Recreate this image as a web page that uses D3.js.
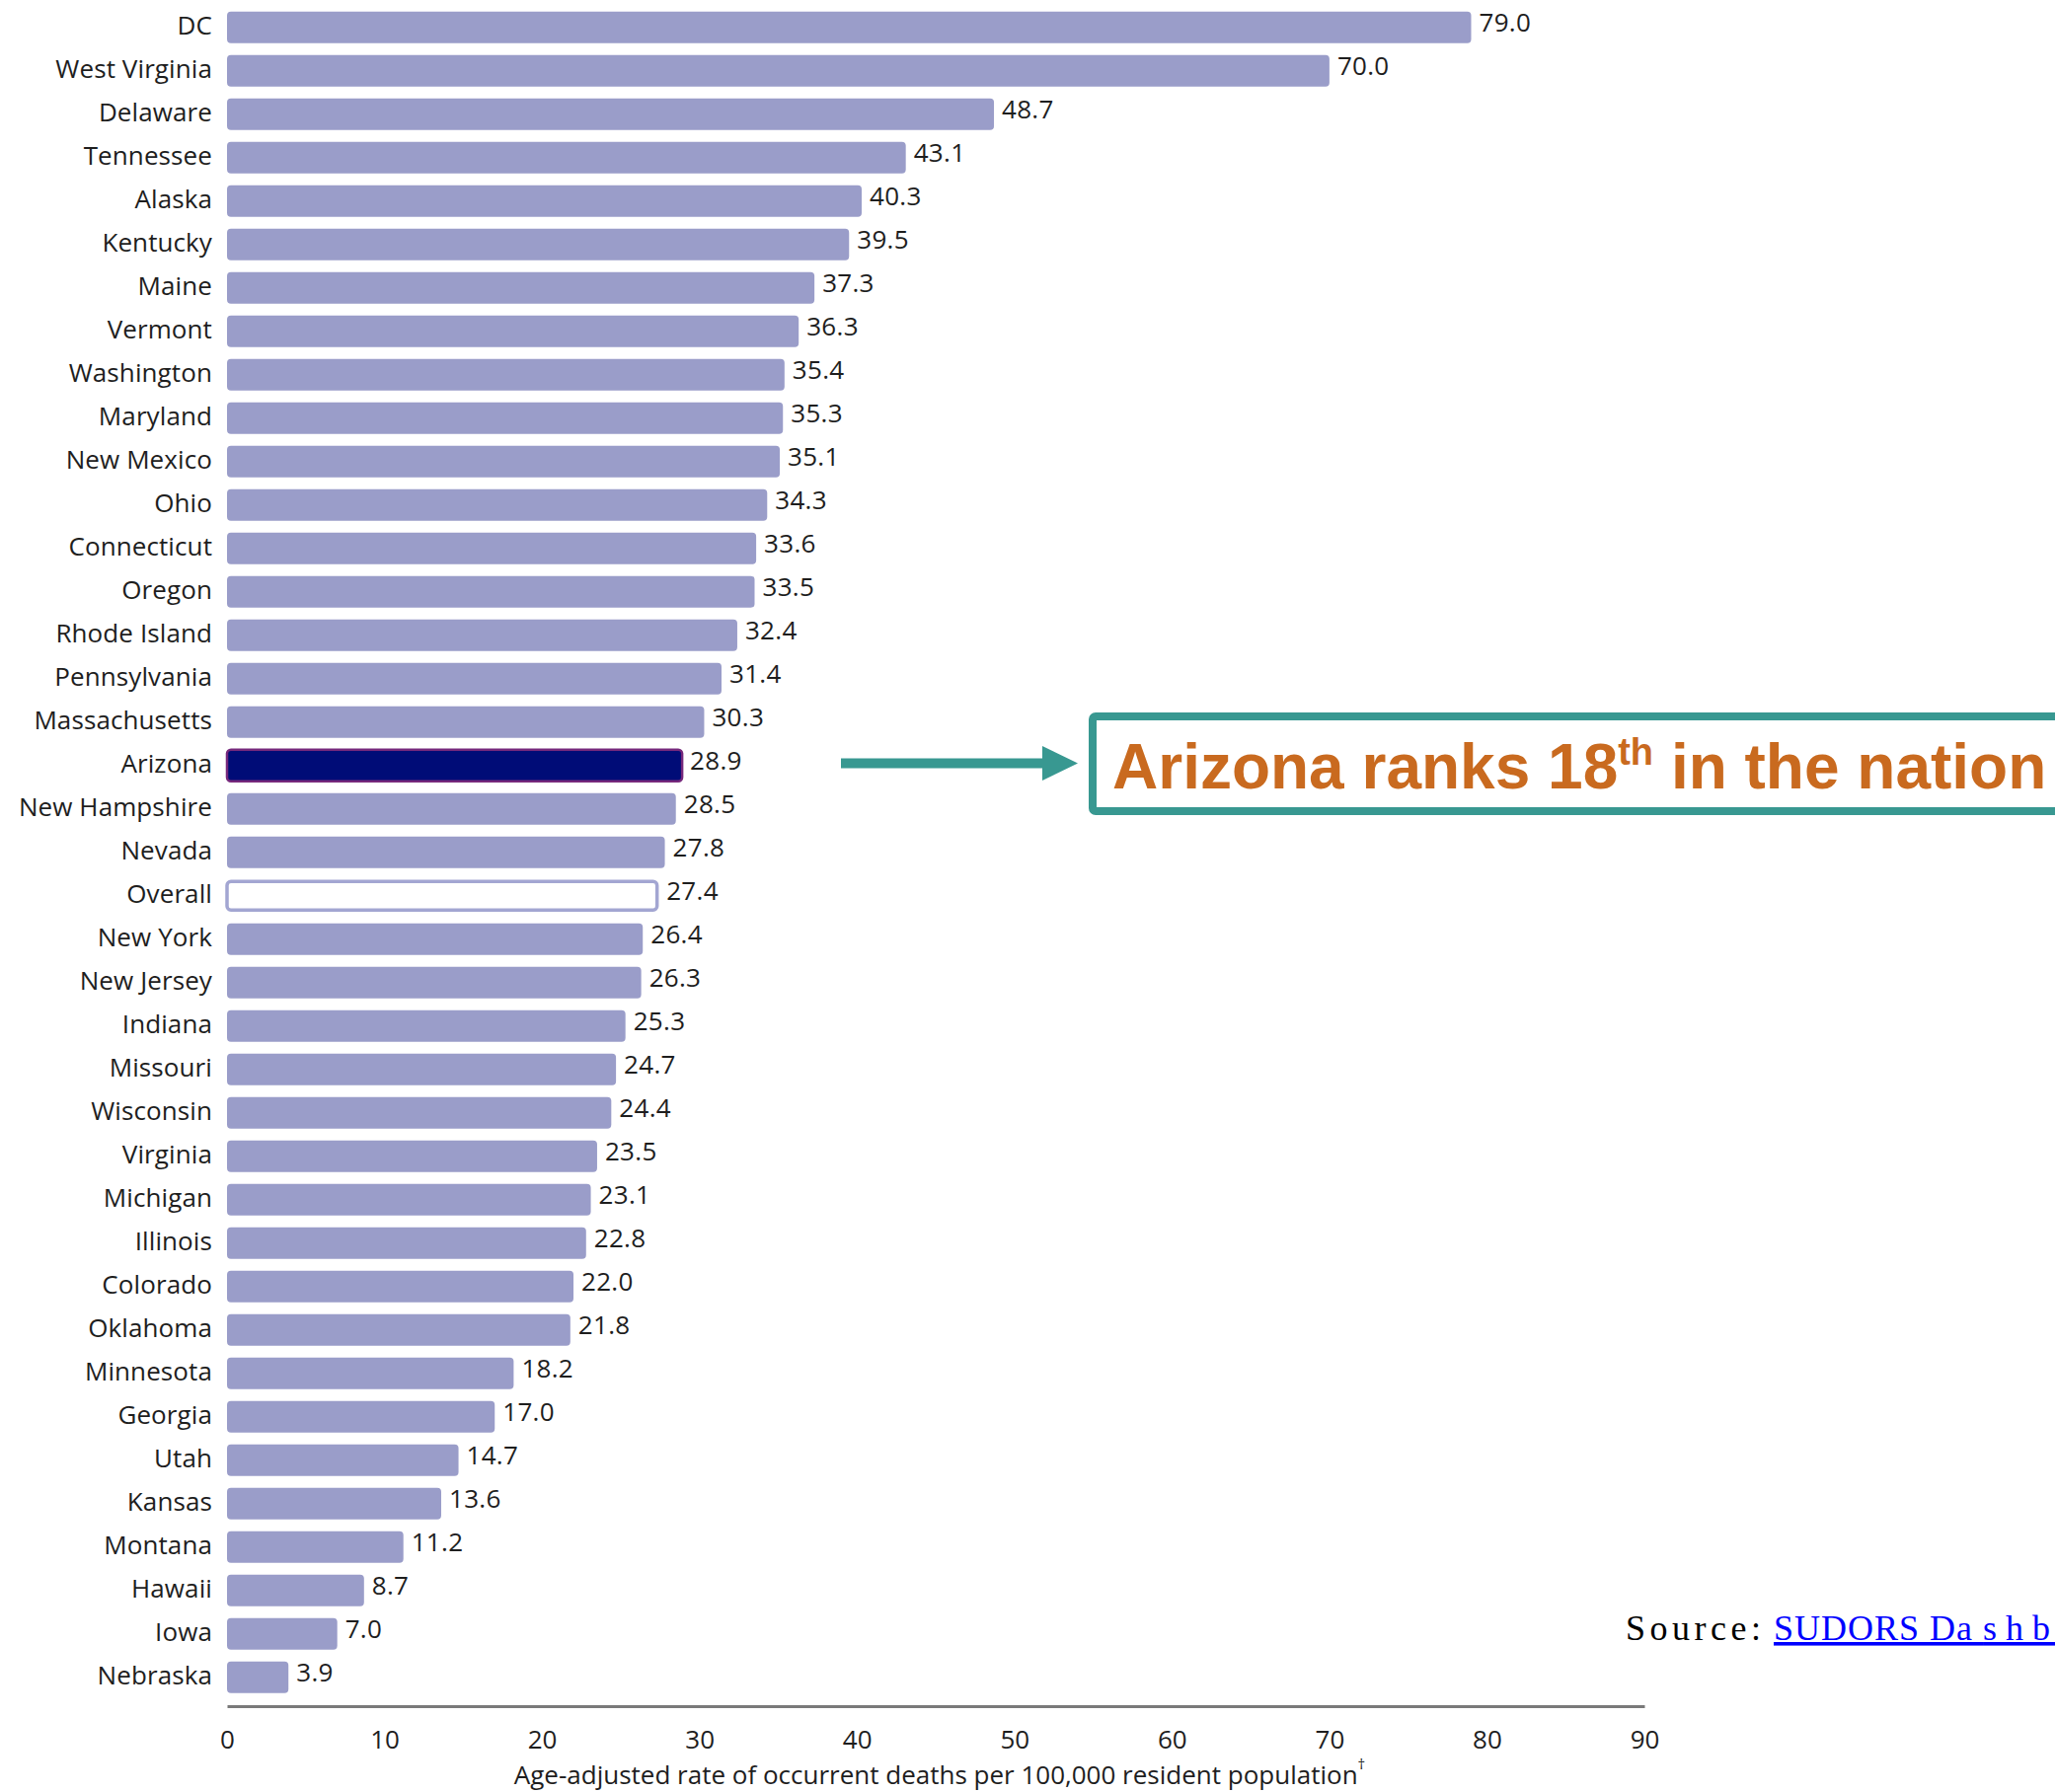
<!DOCTYPE html>
<html>
<head>
<meta charset="utf-8">
<script src="https://cdn.jsdelivr.net/npm/d3@7"></script>
<style>
  html, body { margin: 0; padding: 0; background: #fff; }
  svg { display: block; }
</style>
</head>
<body>
<svg id="chart" width="2082" height="1816"></svg>
<script>
const states = ["DC","West Virginia","Delaware","Tennessee","Alaska","Kentucky","Maine","Vermont","Washington","Maryland","New Mexico","Ohio","Connecticut","Oregon","Rhode Island","Pennsylvania","Massachusetts","Arizona","New Hampshire","Nevada","Overall","New York","New Jersey","Indiana","Missouri","Wisconsin","Virginia","Michigan","Illinois","Colorado","Oklahoma","Minnesota","Georgia","Utah","Kansas","Montana","Hawaii","Iowa","Nebraska"];
const rates = [79.0,70.0,48.7,43.1,40.3,39.5,37.3,36.3,35.4,35.3,35.1,34.3,33.6,33.5,32.4,31.4,30.3,28.9,28.5,27.8,27.4,26.4,26.3,25.3,24.7,24.4,23.5,23.1,22.8,22.0,21.8,18.2,17.0,14.7,13.6,11.2,8.7,7.0,3.9];
const xTicks = [0,10,20,30,40,50,60,70,80,90];
const axisTitle = "Age-adjusted rate of occurrent deaths per 100,000 resident population";
const highlight = "Arizona";
const overall = "Overall";

const rows = states.map((s, i) => ({ state: s, rate: rates[i] }));
const svg = d3.select("#chart");
const font = "'Open Sans', 'Noto Sans', sans-serif";

const x = d3.scaleLinear().domain([0, 90]).range([230, 1666]);
const y = d3.scaleBand().domain(states).range([5.7, 1721.7]).paddingInner(0.2727).paddingOuter(0.1364);

// bars
svg.append("g").selectAll("rect").data(rows).join("rect")
  .attr("x", x(0))
  .attr("y", d => y(d.state) + (d.state === overall ? 1.5 : 0))
  .attr("width", d => x(d.rate) - x(0) - (d.state === overall ? 1.5 : 0))
  .attr("height", d => y.bandwidth() - (d.state === overall ? 3 : 0))
  .attr("rx", 4)
  .attr("fill", d => d.state === highlight ? "#000c77" : d.state === overall ? "#ffffff" : "#9a9dc9")
  .attr("stroke", d => d.state === highlight ? "#76287c" : d.state === overall ? "#a3a6d2" : "none")
  .attr("stroke-width", d => d.state === highlight ? 2.5 : d.state === overall ? 3.5 : 0);

// state labels
svg.append("g").selectAll("text").data(rows).join("text")
  .attr("x", 215)
  .attr("y", d => y(d.state) + y.bandwidth() / 2 + 7)
  .attr("text-anchor", "end")
  .attr("font-family", font)
  .attr("font-size", 26)
  .attr("letter-spacing", 0.1)
  .attr("fill", "#1e1e1e")
  .text(d => d.state);

// value labels
const fmt = d3.format(".1f");
svg.append("g").selectAll("text").data(rows).join("text")
  .attr("x", d => x(d.rate) + 8)
  .attr("y", d => y(d.state) + 20)
  .attr("font-family", font)
  .attr("font-size", 26)
  .attr("letter-spacing", 0.3)
  .attr("fill", "#1e1e1e")
  .text(d => fmt(d.rate));

// x axis
const axisG = svg.append("g").attr("transform", "translate(0,1729)");
axisG.call(d3.axisBottom(x).tickValues(xTicks).tickSize(0).tickPadding(0).tickFormat(d3.format("d")));
axisG.select(".domain").attr("stroke", "#7a7a7a").attr("stroke-width", 3);
axisG.selectAll(".tick text")
  .attr("font-family", font)
  .attr("font-size", 26)
  .attr("fill", "#1e1e1e")
  .attr("dy", null)
  .attr("y", 43);

// axis title
const t = svg.append("text")
  .attr("x", (x(0) + x(90)) / 2 + 4)
  .attr("y", 1808)
  .attr("text-anchor", "middle")
  .attr("font-family", font)
  .attr("font-size", 26)
  .attr("fill", "#1e1e1e");
t.append("tspan").text(axisTitle);
t.append("tspan").attr("font-size", 15).attr("dy", -15).text("†");

// annotation arrow
const teal = "#389891";
svg.append("rect").attr("x", 852).attr("y", 768.5).attr("width", 207).attr("height", 10).attr("fill", teal);
svg.append("path")
  .attr("d", d3.line()([[1056, 756], [1092, 773.5], [1056, 791]]) + "Z")
  .attr("fill", teal);

// annotation box
svg.append("rect")
  .attr("x", 1107).attr("y", 726).attr("width", 1100).attr("height", 96)
  .attr("rx", 3)
  .attr("fill", "#fff").attr("stroke", teal).attr("stroke-width", 8);

const ann = svg.append("text")
  .attr("x", 1127).attr("y", 799)
  .attr("font-family", "'Liberation Sans', Arial, sans-serif")
  .attr("font-weight", "bold")
  .attr("font-size", 64)
  .attr("fill", "#c96a1f");
ann.append("tspan").text("Arizona ranks 18");
ann.append("tspan").attr("font-size", 38).attr("dy", -24).text("th");
ann.append("tspan").attr("dy", 24).text(" in the nation");

// source
const src = svg.append("text")
  .attr("x", 1647).attr("y", 1662)
  .attr("font-family", "'Liberation Serif', 'Times New Roman', serif")
  .attr("font-size", 36)
  .attr("fill", "#000");
src.append("tspan").attr("letter-spacing", 4.5).text("Source:");
src.append("tspan").attr("x", 1797).attr("fill", "#0000ff").attr("text-decoration", "underline").attr("letter-spacing", 1).text("SUDORS Da ");
src.append("tspan").attr("fill", "#0000ff").attr("text-decoration", "underline").attr("letter-spacing", 9).text("shboard");
</script>
</body>
</html>
